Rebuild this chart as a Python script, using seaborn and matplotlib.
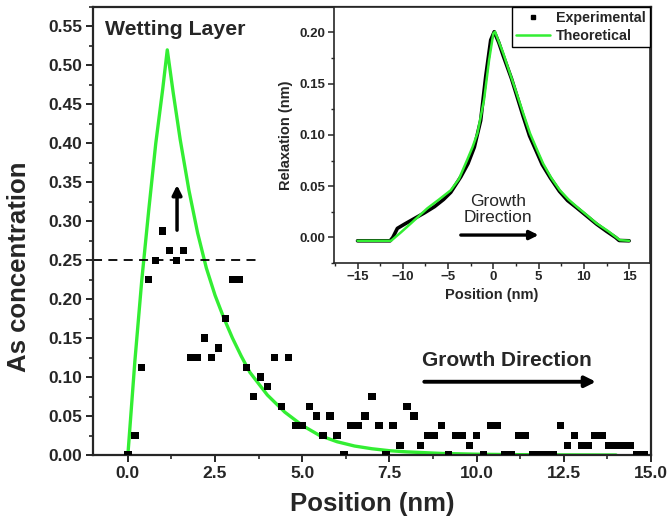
import matplotlib
matplotlib.use("Agg")
import matplotlib.pyplot as plt
from matplotlib.lines import Line2D
from matplotlib.ticker import MultipleLocator
import seaborn as sns
import pandas as pd

# main panel: measured As concentration (nm, fraction)
exp_x = [0.0, 0.2, 0.4, 0.6, 0.8, 1.0, 1.2, 1.4, 1.6, 1.8, 2.0, 2.2, 2.4, 2.6, 2.8,
         3.0, 3.2, 3.4, 3.6, 3.8, 4.0, 4.2, 4.4, 4.6, 4.8, 5.0, 5.2, 5.4, 5.6, 5.8,
         6.0, 6.2, 6.4, 6.6, 6.8, 7.0, 7.2, 7.4, 7.6, 7.8, 8.0, 8.2, 8.4, 8.6, 8.8,
         9.0, 9.2, 9.4, 9.6, 9.8, 10.0, 10.2, 10.4, 10.6, 10.8, 11.0, 11.2, 11.4,
         11.6, 11.8, 12.0, 12.2, 12.4, 12.6, 12.8, 13.0, 13.2, 13.4, 13.6, 13.8,
         14.0, 14.2, 14.4, 14.6, 14.8]
exp_y = [0.0, 0.025, 0.1125, 0.225, 0.25, 0.2875, 0.2625, 0.25, 0.2625, 0.125,
         0.125, 0.15, 0.125, 0.1375, 0.175, 0.225, 0.225, 0.1125, 0.075, 0.1,
         0.0875, 0.125, 0.0625, 0.125, 0.0375, 0.0375, 0.0625, 0.05, 0.025, 0.05,
         0.025, 0.0, 0.0375, 0.0375, 0.05, 0.075, 0.0375, 0.0, 0.0375, 0.0125,
         0.0625, 0.05, 0.0125, 0.025, 0.025, 0.0375, 0.0, 0.025, 0.025, 0.0125,
         0.025, 0.0, 0.0375, 0.0375, 0.0, 0.0, 0.025, 0.025, 0.0, 0.0, 0.0, 0.0,
         0.0375, 0.0125, 0.025, 0.0125, 0.0125, 0.025, 0.025, 0.0125, 0.0125,
         0.0125, 0.0125, 0.0, 0.0]

# main panel: model curve
theo_x = [0.0, 0.2, 0.4, 0.6, 0.8, 1.0, 1.13, 1.3, 1.5, 1.75, 2.0, 2.25, 2.5, 2.75,
          3.0, 3.25, 3.5, 4.0, 4.5, 5.0, 5.5, 6.0, 6.5, 7.0, 7.5, 8.0, 9.0, 10.0,
          11.0, 12.0, 14.0]
theo_y = [0.0, 0.12, 0.225, 0.315, 0.40, 0.47, 0.52, 0.465, 0.405, 0.34, 0.285,
          0.24, 0.205, 0.176, 0.15, 0.127, 0.106, 0.077, 0.055, 0.038, 0.025,
          0.017, 0.0115, 0.008, 0.0055, 0.004, 0.002, 0.001, 0.0005, 0.0002, 0.0]

# inset: relaxation profile
rel_exp_x = [-15.0, -11.4, -11.1, -10.6, -9.8, -8.7, -7.6, -6.5, -5.5, -4.7, -3.6,
             -2.8, -2.1, -1.4, -0.84, -0.29, 0.1, 0.6, 1.1, 2.0, 2.6, 3.3, 4.0,
             4.7, 5.4, 6.3, 7.3, 8.2, 9.2, 10.3, 11.4, 12.5, 13.5, 13.9, 15.0]
rel_exp_y = [-0.0033, -0.0033, 0.0, 0.0088, 0.013, 0.0185, 0.024, 0.030, 0.037,
             0.044, 0.059, 0.072, 0.088, 0.114, 0.157, 0.1925, 0.2006, 0.19,
             0.177, 0.155, 0.138, 0.118, 0.099, 0.085, 0.071, 0.058, 0.045,
             0.036, 0.029, 0.021, 0.013, 0.006, 0.0, -0.003, -0.0033]
rel_theo_x = [-15.0, -11.3, -10.2, -9.1, -8.2, -7.3, -6.0, -4.7, -3.8, -2.9, -2.3,
              -1.76, -1.03, -0.47, 0.0, 0.19, 1.1, 1.8, 2.58, 3.3, 4.05, 4.8, 5.5,
              6.4, 7.35, 8.3, 9.2, 10.3, 11.4, 12.7, 13.97, 15.0]
rel_theo_y = [-0.0033, -0.0033, 0.005, 0.0137, 0.021, 0.0283, 0.037, 0.046, 0.057,
              0.0754, 0.088, 0.1015, 0.134, 0.173, 0.199, 0.2006, 0.1795, 0.161,
              0.1405, 0.121, 0.1015, 0.086, 0.072, 0.058, 0.046, 0.037, 0.030,
              0.022, 0.0137, 0.006, -0.0026, -0.0033]

green = "#33ee33"

sns.set_theme(style="ticks")
plt.rcParams["font.family"] = ["Liberation Sans", "DejaVu Sans"]
plt.rcParams["font.weight"] = "bold"

fig = plt.figure(figsize=(6.7, 5.24), dpi=100)
ax = fig.add_axes([0.1388, 0.1317, 0.8328, 0.8549])

main_pts = pd.DataFrame({"x": exp_x, "y": exp_y})
main_fit = pd.DataFrame({"x": theo_x, "y": theo_y})

sns.lineplot(data=main_fit, x="x", y="y", ax=ax, color=green, lw=2.4, sort=False,
             zorder=2)
sns.scatterplot(data=main_pts, x="x", y="y", ax=ax, marker="s", s=28, color="black",
                edgecolor="none", zorder=3)

ax.hlines(0.25, -1.0, 3.75, colors="black", linestyles=(0, (5, 3.5)), lw=1.3)
ax.annotate("", xy=(1.41, 0.35), xytext=(1.41, 0.285),
            arrowprops=dict(arrowstyle="-|>", lw=2.5, color="black", mutation_scale=14))
ax.annotate("", xy=(13.5, 0.094), xytext=(8.42, 0.094),
            arrowprops=dict(arrowstyle="-|>", lw=2.8, color="black", mutation_scale=16))
ax.text(8.42, 0.121, "Growth Direction", fontsize=15, fontweight="bold",
        ha="left", va="center")
ax.text(-0.65, 0.546, "Wetting Layer", fontsize=15.3, fontweight="bold",
        ha="left", va="center")

ax.set_xlim(-1.0, 15.0)
ax.set_ylim(0.0, 0.575)
ax.xaxis.set_major_locator(MultipleLocator(2.5))
ax.xaxis.set_minor_locator(MultipleLocator(1.25))
ax.yaxis.set_major_locator(MultipleLocator(0.05))
ax.yaxis.set_minor_locator(MultipleLocator(0.025))
ax.xaxis.set_major_formatter(lambda v, p: f"{v:.1f}")
ax.yaxis.set_major_formatter(lambda v, p: f"{v:.2f}")
ax.tick_params(which="major", direction="out", length=5, width=1.4, labelsize=12.5,
               pad=3)
ax.tick_params(which="minor", direction="out", length=3, width=1.2)
for lab in ax.get_xticklabels() + ax.get_yticklabels():
    lab.set_fontweight("bold")
for sp in ax.spines.values():
    sp.set_linewidth(1.6)
    sp.set_visible(True)
ax.set_xlabel("Position (nm)", fontsize=18.5, fontweight="bold", labelpad=8)
ax.set_ylabel("As concentration", fontsize=18.5, fontweight="bold")
ax.yaxis.set_label_coords(-0.112, 0.42)

# inset
axi = fig.add_axes([0.4985, 0.498, 0.4716, 0.4886])
ins_exp = pd.DataFrame({"x": rel_exp_x, "y": rel_exp_y})
ins_fit = pd.DataFrame({"x": rel_theo_x, "y": rel_theo_y})
sns.lineplot(data=ins_exp, x="x", y="y", ax=axi, color="black", lw=2.6, sort=False)
sns.lineplot(data=ins_fit, x="x", y="y", ax=axi, color=green, lw=1.8, sort=False)

axi.annotate("", xy=(5.3, 0.0023), xytext=(-3.9, 0.0023),
             arrowprops=dict(arrowstyle="-|>", lw=2.4, color="black", mutation_scale=13))
axi.text(0.55, 0.027, "Growth\nDirection", fontsize=12.5, fontweight="normal",
         ha="center", va="center", linespacing=1.05)

axi.set_xlim(-17.6, 17.3)
axi.set_ylim(-0.025, 0.2247)
axi.xaxis.set_major_locator(MultipleLocator(5))
axi.xaxis.set_minor_locator(MultipleLocator(2.5))
axi.yaxis.set_major_locator(MultipleLocator(0.05))
axi.yaxis.set_minor_locator(MultipleLocator(0.025))
axi.yaxis.set_major_formatter(lambda v, p: f"{v:.2f}")
axi.tick_params(which="major", direction="out", length=4, width=1.1, labelsize=9.5,
                pad=2)
axi.tick_params(which="minor", direction="out", length=2.5, width=1.0)
for lab in axi.get_xticklabels() + axi.get_yticklabels():
    lab.set_fontweight("bold")
for sp in axi.spines.values():
    sp.set_linewidth(1.2)
axi.set_xlabel("Position (nm)", fontsize=10.5, fontweight="bold", labelpad=3)
axi.set_ylabel("Relaxation (nm)", fontsize=10.5, fontweight="bold", labelpad=5)

handles = [Line2D([], [], marker="s", ls="", color="black", markersize=3.5),
           Line2D([], [], color=green, lw=1.8)]
leg = axi.legend(handles, ["Experimental", "Theoretical"], loc="upper right",
                 frameon=True, fancybox=False, framealpha=1, edgecolor="black",
                 handlelength=2.4, borderaxespad=0, borderpad=0.3,
                 labelspacing=0.25, handletextpad=0.4,
                 prop={"weight": "bold", "size": 10.3})
leg.get_frame().set_linewidth(1.0)

fig.savefig("out.png", dpi=100)
